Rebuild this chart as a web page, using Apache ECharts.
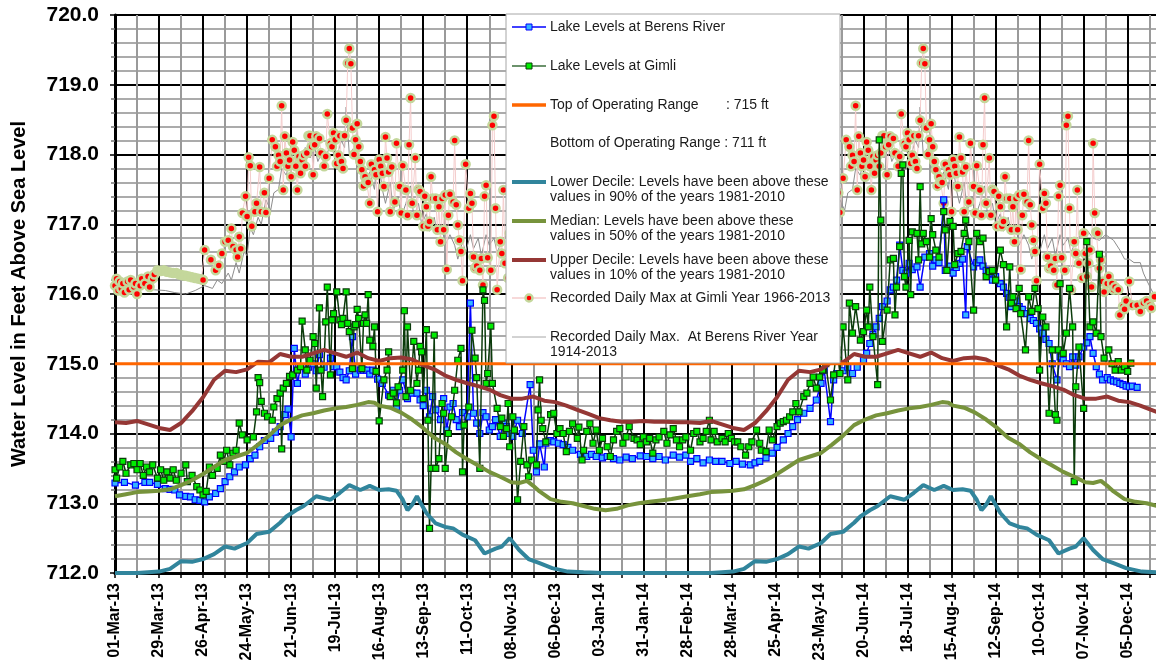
<!DOCTYPE html>
<html><head><meta charset="utf-8">
<script src="https://cdn.jsdelivr.net/npm/echarts@6/dist/echarts.min.js"></script>
<style>html,body{margin:0;padding:0;background:#fff}#c{width:1156px;height:667px}</style>
</head><body><div id="c"></div>
<script>
// ---------------- DATA ----------------
// x = days since 01-Mar-2013
const X_MAX_DAY = 662;
const xTickLabels = ['01-Mar-13','29-Mar-13','26-Apr-13','24-May-13','21-Jun-13','19-Jul-13','16-Aug-13','13-Sep-13','11-Oct-13','08-Nov-13','06-Dec-13','03-Jan-14','31-Jan-14','28-Feb-14','28-Mar-14','25-Apr-14','23-May-14','20-Jun-14','18-Jul-14','15-Aug-14','12-Sep-14','10-Oct-14','07-Nov-14','05-Dec-14'];
const yTickLabels = ['712.0','713.0','714.0','715.0','716.0','717.0','718.0','719.0','720.0'];
const TOP_RANGE = 715;
const BOTTOM_RANGE = 711;

// Observed 2013-2014 levels [day, ft]
const berensLevels = [[0,713.29],[6,713.3],[13,713.26],[19,713.3],[22,713.3],[27,713.27],[32,713.21],[35,713.2],[38,713.19],[41,713.12],[45,713.1],[48,713.09],[51,713.05],[54,713.04],[57,713.02],[60,713.09],[64,713.14],[67,713.21],[70,713.31],[73,713.38],[76,713.45],[79,713.52],[83,713.55],[86,713.64],[89,713.69],[92,713.81],[95,713.9],[99,713.93],[102,714.02],[105,714.1],[108,714.27],[110,714.35],[112,713.95],[114,715.22],[116,714.72],[118,714.96],[121,714.85],[123,714.95],[126,715.0],[128,714.9],[130,715.13],[133,714.95],[137,715.08],[139,714.96],[141,714.96],[143,714.88],[145,714.8],[147,714.77],[149,714.9],[151,715.39],[153,714.85],[156,714.91],[158,714.91],[160,714.91],[162,714.85],[164,714.91],[167,714.78],[170,714.72],[174,714.55],[177,714.62],[179,714.38],[181,714.62],[183,714.77],[186,714.5],[189,714.58],[192,714.58],[194,714.48],[196,714.4],[198,714.62],[200,714.24],[202,714.53],[204,714.34],[207,714.2],[209,714.5],[211,714.05],[213,714.38],[215,714.43],[217,714.2],[219,714.1],[221,714.3],[224,714.24],[226,715.87],[228,714.29],[230,714.15],[232,714.0],[234,714.3],[236,714.24],[238,714.05],[240,714.1],[242,714.2],[245,713.96],[247,714.15],[249,714.1],[251,714.0],[253,713.96],[256,714.19],[259,714.0],[264,714.7],[266,713.76],[268,713.45],[270,713.85],[273,713.52],[274,713.86],[277,713.9],[279,713.88],[282,713.86],[285,713.84],[288,713.8],[291,713.76],[296,713.7],[300,713.67],[303,713.7],[306,713.67],[310,713.65],[313,713.67],[317,713.64],[321,713.62],[325,713.66],[329,713.64],[334,713.68],[338,713.67],[342,713.64],[346,713.67],[350,713.62],[355,713.69],[359,713.66],[363,713.69],[366,713.6],[370,713.64],[374,713.58],[378,713.62],[382,713.6],[386,713.6],[391,713.57],[395,713.6],[399,713.56],[404,713.55],[407,713.58],[410,713.6],[414,713.65],[418,713.72],[421,713.8],[425,713.91],[428,714.0],[431,714.1],[434,714.2],[438,714.29],[442,714.36],[446,714.48],[449,714.72],[451,714.91],[455,714.17],[457,714.77],[459,714.86],[463,714.9],[466,714.95],[469,714.86],[472,714.95],[476,715.05],[478,715.15],[480,715.29],[482,715.42],[484,715.53],[486,715.65],[488,715.82],[491,715.9],[493,716.06],[495,716.1],[497,716.2],[499,716.7],[501,716.34],[503,716.3],[505,716.44],[507,716.35],[510,716.39],[512,716.1],[515,716.53],[518,716.58],[520,716.4],[522,716.49],[524,716.45],[527,717.35],[528,716.34],[531,716.4],[533,716.3],[535,716.38],[537,716.44],[539,716.5],[541,715.7],[542,716.68],[546,716.39],[548,716.45],[550,716.49],[552,716.4],[554,716.34],[556,716.3],[558,716.2],[560,716.25],[563,716.15],[565,716.1],[567,716.01],[569,715.95],[570,715.82],[573,715.9],[575,715.82],[577,715.78],[580,715.72],[582,715.65],[584,715.62],[586,715.58],[588,715.5],[590,715.44],[592,715.35],[594,715.29],[596,715.0],[599,714.77],[601,715.1],[603,715.05],[605,715.0],[607,714.96],[609,715.1],[611,714.98],[613,715.1],[616,715.24],[618,715.3],[620,715.39],[622,715.15],[624,714.96],[626,714.85],[628,714.77],[631,714.8],[633,714.77],[635,714.75],[637,714.74],[639,714.72],[641,714.7],[643,714.68],[645,714.67],[647,714.68],[650,714.66]];

const gimliLevels = [[0,713.48],[1,713.36],[3,713.52],[5,713.6],[7,713.43],[10,713.55],[12,713.57],[14,713.48],[16,713.57],[18,713.4],[20,713.52],[22,713.45],[24,713.55],[27,713.36],[29,713.48],[31,713.33],[33,713.45],[35,713.36],[37,713.48],[39,713.33],[42,713.43],[45,713.55],[46,713.31],[49,713.4],[52,713.24],[54,713.19],[56,713.12],[58,713.17],[60,713.52],[62,713.4],[65,713.5],[67,713.69],[69,713.6],[71,713.76],[73,713.55],[75,713.72],[77,713.76],[79,714.15],[81,713.98],[84,713.91],[88,713.95],[90,714.31],[91,714.8],[92,714.73],[93,714.46],[95,714.29],[97,714.24],[100,714.19],[101,714.38],[103,714.5],[105,714.58],[106,713.78],[107,714.65],[109,714.72],[111,714.82],[113,714.84],[116,714.91],[118,714.96],[119,715.61],[121,715.2],[122,714.91],[124,715.05],[126,715.39],[127,715.29],[128,714.65],[130,715.8],[131,714.91],[132,714.53],[134,715.6],[135,716.1],[137,714.84],[138,715.63],[139,715.72],[141,716.03],[143,715.63],[144,715.56],[145,715.65],[147,716.03],[148,715.58],[149,715.46],[151,714.93],[152,715.53],[153,715.56],[154,715.78],[155,715.65],[157,714.93],[158,715.58],[159,715.7],[160,715.58],[161,715.99],[162,715.34],[164,715.25],[165,715.53],[166,714.89],[168,714.18],[171,714.77],[173,714.91],[174,715.17],[175,714.53],[177,714.58],[179,714.44],[180,714.67],[183,714.91],[184,715.76],[185,714.53],[186,715.53],[188,714.62],[190,715.32],[192,714.72],[193,714.91],[194,715.25],[195,715.17],[196,714.5],[198,715.49],[199,714.19],[200,712.64],[201,713.5],[203,715.41],[204,713.5],[206,713.64],[208,714.43],[209,714.29],[210,713.5],[212,714.0],[214,714.24],[216,714.62],[218,715.05],[220,715.22],[221,713.45],[222,714.12],[225,714.38],[227,715.48],[229,715.08],[230,714.8],[232,713.5],[234,716.06],[235,715.91],[236,714.72],[237,714.86],[239,715.54],[240,714.72],[243,714.36],[245,714.1],[246,714.22],[247,713.96],[249,714.07],[250,714.43],[251,713.81],[253,714.24],[254,714.05],[256,713.05],[258,713.6],[260,714.1],[262,713.55],[263,713.38],[265,713.62],[268,713.55],[269,714.34],[270,714.77],[271,714.19],[272,714.07],[274,713.88],[277,714.27],[279,714.29],[281,714.0],[283,714.07],[285,714.0],[287,713.74],[289,714.03],[291,714.14],[294,713.93],[295,714.09],[297,713.62],[298,713.76],[300,714.03],[302,714.14],[304,713.86],[306,714.05],[308,713.76],[310,713.93],[313,713.81],[315,713.67],[317,713.91],[319,714.03],[321,714.07],[323,713.86],[325,713.95],[327,714.1],[330,713.93],[332,713.91],[334,713.84],[336,713.95],[338,713.88],[340,713.93],[342,713.72],[344,713.91],[346,713.95],[349,714.03],[351,713.86],[353,713.98],[355,714.07],[357,713.91],[359,713.81],[361,713.91],[363,713.95],[366,713.76],[368,714.0],[370,714.03],[372,713.88],[374,713.93],[376,714.03],[378,714.19],[379,713.91],[381,714.03],[383,713.88],[386,713.93],[388,713.88],[390,714.0],[392,713.93],[394,713.88],[396,713.88],[398,713.81],[401,713.69],[403,713.81],[405,713.88],[408,714.05],[410,713.86],[411,713.76],[414,713.74],[416,714.05],[418,713.91],[421,714.1],[423,714.15],[425,714.17],[427,714.19],[429,714.24],[431,714.31],[433,714.43],[435,714.31],[438,714.53],[440,714.58],[442,714.72],[444,714.81],[446,714.65],[448,714.81],[450,714.91],[452,715.0],[455,714.48],[457,714.84],[459,715.2],[460,715.05],[461,714.86],[463,715.53],[466,714.77],[467,715.87],[469,715.44],[471,715.82],[474,715.34],[476,715.46],[478,715.77],[479,715.53],[480,716.1],[482,715.39],[485,714.7],[486,718.21],[487,717.06],[488,715.32],[491,715.77],[493,716.49],[495,716.51],[496,715.7],[497,716.1],[499,716.68],[500,717.73],[501,717.85],[502,716.25],[503,716.1],[505,716.77],[506,715.99],[507,716.89],[510,716.87],[511,716.49],[512,717.54],[513,716.72],[514,716.87],[516,716.75],[518,716.53],[519,717.08],[520,716.85],[522,716.63],[524,716.53],[527,717.18],[528,716.92],[529,716.34],[531,717.04],[533,716.97],[534,716.42],[536,716.58],[538,716.61],[540,716.87],[541,717.06],[543,716.75],[546,715.77],[548,716.87],[550,716.75],[552,716.8],[554,716.25],[556,716.32],[558,716.34],[560,716.2],[563,716.63],[565,716.42],[567,715.53],[569,716.39],[570,715.87],[571,715.96],[573,715.79],[575,716.08],[576,715.72],[579,715.2],[581,715.96],[583,715.75],[585,716.08],[587,715.79],[588,714.91],[590,715.67],[592,715.53],[594,714.29],[596,715.2],[598,714.27],[599,714.19],[600,715.2],[601,716.15],[603,715.15],[605,715.44],[607,716.08],[609,715.53],[610,713.31],[611,714.67],[613,715.24],[616,714.36],[618,716.75],[620,715.53],[622,715.6],[624,715.44],[626,716.57],[627,715.39],[629,715.08],[632,715.2],[634,715.0],[636,714.91],[638,715.03],[640,714.91],[642,714.96],[644,714.89],[646,715.01]];

// Climatology 1981-2010, by day of season (0 = 01-Mar), repeats each year
const lowerDecile = [[0,712.0],[7,712.0],[14,712.0],[21,712.01],[28,712.02],[35,712.06],[42,712.17],[49,712.16],[56,712.2],[63,712.27],[70,712.38],[76,712.35],[84,712.43],[90,712.56],[98,712.59],[105,712.72],[109,712.81],[115,712.9],[120,712.96],[128,713.1],[137,713.05],[143,713.15],[149,713.26],[156,713.19],[162,713.25],[168,713.19],[174,713.2],[179,713.18],[183,713.05],[186,712.9],[189,712.98],[192,713.1],[195,712.98],[198,712.86],[204,712.71],[210,712.66],[215,712.64],[221,712.55],[229,712.47],[235,712.28],[242,712.35],[246,712.38],[251,712.5],[257,712.33],[263,712.2],[270,712.14],[278,712.07],[288,712.02],[298,712.01],[310,712.0],[330,712.0],[364,712.0]];
const medianLevel = [[0,713.1],[7,713.13],[14,713.16],[21,713.17],[28,713.18],[35,713.2],[42,713.26],[49,713.33],[56,713.42],[63,713.52],[70,713.62],[77,713.67],[84,713.72],[91,713.84],[98,713.97],[105,714.12],[112,714.2],[119,714.26],[126,714.29],[133,714.33],[140,714.36],[147,714.38],[154,714.41],[161,714.45],[165,714.44],[168,714.4],[175,714.37],[182,714.3],[189,714.2],[196,714.08],[203,713.94],[210,713.85],[217,713.73],[224,713.63],[231,713.54],[238,713.45],[245,713.38],[252,713.3],[257,713.29],[262,713.32],[266,713.25],[270,713.17],[277,713.06],[284,713.02],[291,713.0],[298,712.96],[305,712.92],[312,712.9],[319,712.92],[326,712.97],[333,713.0],[340,713.02],[347,713.04],[354,713.06],[364,713.1]];
const upperDecile = [[0,714.16],[7,714.15],[14,714.18],[21,714.13],[28,714.08],[35,714.05],[42,714.15],[49,714.32],[56,714.52],[63,714.77],[70,714.9],[77,714.88],[84,714.92],[91,715.03],[98,715.02],[105,715.14],[112,715.1],[119,715.1],[126,715.15],[133,715.2],[140,715.15],[147,715.1],[154,715.16],[161,715.08],[168,715.04],[175,715.08],[182,715.09],[189,715.06],[196,714.98],[203,714.92],[210,714.83],[217,714.77],[224,714.72],[231,714.68],[238,714.63],[245,714.55],[252,714.5],[259,714.5],[266,714.53],[273,714.47],[280,714.45],[287,714.4],[294,714.34],[301,714.28],[308,714.22],[315,714.19],[322,714.17],[329,714.17],[336,714.18],[343,714.17],[350,714.17],[357,714.16],[364,714.16]];

// Recorded daily maxima, by day of season (repeats each year)
const gimliMax = [[0,716.12],[1,716.22],[2,716.05],[3,716.18],[4,716.08],[5,716.15],[6,716.02],[8,716.18],[9,716.06],[10,716.2],[12,716.1],[13,716.15],[14,716.0],[16,716.12],[17,716.22],[19,716.15],[21,716.25],[22,716.1],[24,716.22],[25,716.28],[27,716.34],[29,716.33],[31,716.34],[33,716.32],[35,716.31],[37,716.3],[39,716.3],[41,716.28],[43,716.27],[45,716.26],[47,716.25],[49,716.24],[51,716.23],[53,716.22],[55,716.21],[56,716.2],[57,716.63],[61,716.49],[64,716.34],[66,716.41],[68,716.58],[70,716.75],[72,716.77],[74,716.94],[75,716.68],[77,716.63],[78,716.53],[79,716.82],[80,716.65],[81,717.16],[83,717.4],[84,717.11],[85,717.96],[86,717.84],[87,716.97],[89,717.18],[90,717.3],[92,717.82],[93,717.18],[95,717.45],[96,717.17],[98,717.66],[100,718.21],[102,718.11],[103,717.83],[104,717.99],[105,717.9],[106,718.7],[107,717.49],[108,718.26],[109,718.02],[110,717.83],[111,717.92],[112,717.68],[113,718.18],[114,718.06],[115,717.83],[116,717.49],[117,717.97],[118,717.73],[119,717.92],[120,717.99],[121,717.83],[122,718.02],[123,718.27],[124,718.27],[125,718.11],[126,717.71],[127,718.14],[128,718.26],[130,718.23],[131,718.02],[133,717.83],[134,717.97],[135,718.58],[137,718.16],[138,718.11],[139,718.31],[140,718.21],[141,717.87],[142,717.99],[143,718.27],[144,717.9],[145,717.8],[146,718.27],[147,718.49],[148,719.31],[149,719.52],[150,719.3],[151,718.38],[152,718.0],[153,718.21],[154,718.44],[155,718.11],[156,717.9],[157,717.78],[158,717.55],[159,717.68],[160,717.61],[161,717.6],[162,717.3],[163,717.86],[165,717.78],[166,717.71],[167,717.18],[168,717.93],[169,717.83],[170,717.73],[171,717.54],[172,718.25],[173,717.95],[174,717.75],[175,717.18],[176,717.82],[178,717.32],[179,718.16],[181,717.54],[182,717.16],[183,717.84],[185,717.49],[186,717.13],[187,718.14],[188,718.81],[189,717.3],[191,717.95],[192,717.13],[193,717.5],[194,717.47],[196,716.97],[197,717.4],[198,717.25],[199,716.97],[200,717.04],[201,717.68],[202,717.37],[204,717.37],[205,716.92],[206,717.25],[207,716.75],[208,717.37],[209,716.92],[210,717.42],[211,716.35],[212,717.13],[213,717.43],[215,717.32],[216,718.2],[217,717.28],[218,716.99],[219,716.77],[220,716.61],[221,716.19],[223,717.86],[225,717.23],[226,717.44],[227,717.3],[228,716.53],[229,716.37],[230,716.4],[232,716.34],[233,716.51],[234,716.13],[235,717.4],[236,717.56],[237,716.52],[239,716.34],[240,718.42],[241,718.55],[242,717.23],[243,716.06],[245,716.75],[246,716.58],[247,717.49],[248,716.44],[250,716.23],[251,716.87],[252,716.58],[253,716.25],[254,716.44],[255,716.63],[256,716.1],[257,718.16],[258,717.16],[259,716.89],[260,716.87],[261,716.37],[262,716.49],[263,716.18],[264,716.03],[266,716.15],[267,716.25],[269,716.15],[270,716.06],[271,716.1],[273,716.06],[274,715.7],[276,715.82],[277,715.78],[278,715.9],[280,716.18],[282,715.84],[285,715.84],[287,715.75],[289,715.87],[291,715.9],[293,715.84],[294,715.8],[296,715.96],[300,716.05],[310,716.1],[320,716.0],[330,716.12],[340,716.05],[350,716.1],[360,716.08]];
const berensMax = [[0,716.12],[6,716.08],[13,716.05],[19,716.1],[25,716.06],[32,716.05],[38,716.02],[45,716.0],[51,716.05],[57,716.12],[62,716.08],[65,716.2],[68,716.15],[72,716.3],[74,716.2],[77,716.45],[79,716.3],[82,716.6],[84,716.55],[86,716.95],[88,716.85],[91,717.1],[93,717.0],[96,717.35],[99,717.2],[101,717.45],[104,717.5],[106,717.8],[109,717.7],[111,717.95],[114,717.85],[116,718.0],[119,717.85],[121,718.1],[124,717.95],[127,718.1],[129,717.9],[132,718.05],[134,717.95],[137,718.15],[140,717.95],[142,718.05],[144,718.2],[146,718.1],[147,718.68],[149,718.0],[152,718.1],[154,717.8],[157,717.95],[160,717.6],[162,717.75],[165,717.5],[167,718.0],[170,717.5],[172,717.3],[175,717.6],[177,717.2],[180,717.4],[182,717.1],[185,717.3],[188,717.55],[190,717.1],[193,717.3],[195,717.0],[198,717.15],[200,716.9],[203,717.1],[205,716.85],[208,716.95],[210,716.7],[213,716.85],[216,716.7],[218,716.5],[221,716.75],[223,716.6],[226,716.85],[228,716.65],[231,716.8],[233,716.55],[236,716.85],[238,716.7],[241,716.8],[243,716.6],[246,716.75],[249,716.85],[253,716.92],[257,716.8],[261,716.77],[265,716.85],[270,716.77],[274,716.63],[277,716.5],[280,716.5],[283,716.45],[287,716.45],[289,716.3],[291,716.2],[295,716.02],[300,716.0],[320,716.0],[340,716.05],[364,716.1]];

// ---------------- CHART ----------------
const FONT = 'Arial, "Liberation Sans", sans-serif';
function everySeason(arr){ // climatology repeats each season (365 days); lines run past the right edge and are clipped
  const out = arr.map(p => [p[0], p[1]]);
  let passedEnd = false;
  arr.forEach(p => {
    if (passedEnd) return;
    out.push([p[0] + 365, p[1]]);
    if (p[0] + 365 > X_MAX_DAY) passedEnd = true;
  });
  return out;
}
const chart = echarts.init(document.getElementById('c'), null, {renderer:'canvas'});

const legendItems = [
  {y:27, text:'Lake Levels at Berens River', line:{stroke:'#0000ff', lineWidth:1.5}, sq:{fill:'#33b5ff', stroke:'#0000ff'}},
  {y:66, text:'Lake Levels at Gimli', line:{stroke:'#3b6e3b', lineWidth:1.5}, sq:{fill:'#00ee00', stroke:'#0b3b0b'}},
  {y:105, text:'Top of Operating Range       : 715 ft', line:{stroke:'#ff6600', lineWidth:3.5}},
  {y:143, text:'Bottom of Operating Range : 711 ft'},
  {y:182, text:'Lower Decile: Levels have been above these\nvalues in 90% of the years 1981-2010', line:{stroke:'#31859c', lineWidth:4}},
  {y:221, text:'Median: Levels have been above these\nvalues in 50% of the years 1981-2010', line:{stroke:'#77933c', lineWidth:4}},
  {y:260, text:'Upper Decile: Levels have been above these\nvalues in 10% of the years 1981-2010', line:{stroke:'#953735', lineWidth:4}},
  {y:298, text:'Recorded Daily Max at Gimli Year 1966-2013', line:{stroke:'#f4cccc', lineWidth:1.5}, dot:true},
  {y:337, text:'Recorded Daily Max.  At Berens River Year\n1914-2013', line:{stroke:'#a6a6a6', lineWidth:1}}
];
const graphics = [{type:'rect', z:100, shape:{x:506, y:14, width:334, height:349}, style:{fill:'#fff', stroke:'#a6a6a6', lineWidth:1}}];
legendItems.forEach(it => {
  if (it.line) graphics.push({type:'line', z:101, shape:{x1:512, y1:it.y, x2:546, y2:it.y}, style:Object.assign({}, it.line)});
  if (it.sq) graphics.push({type:'rect', z:102, shape:{x:526, y:it.y-3, width:6, height:6}, style:{fill:it.sq.fill, stroke:it.sq.stroke, lineWidth:1}});
  if (it.dot) graphics.push({type:'circle', z:102, shape:{cx:529, cy:it.y, r:3.5}, style:{fill:'#ff0000', stroke:'#c4d79b', lineWidth:2.5}});
  const two = it.text.indexOf('\n') >= 0;
  graphics.push({type:'text', z:102, x:550, y: two ? it.y - 7.5 : it.y, style:{text:it.text, fill:'#1a1a1a', fontSize:14, fontFamily:FONT, lineHeight:15, verticalAlign: two ? 'top' : 'middle'}});
});

const option = {
  animation: false,
  backgroundColor: '#fff',
  grid: {left:115, top:15, right:0, bottom:94, outerBoundsMode:'none', containLabel:false},
  xAxis: {
    type:'value', min:0, max:X_MAX_DAY, interval:14,
    axisLine:{show:true, onZero:false, lineStyle:{color:'#000', width:3}},
    axisTick:{show:true, length:5, lineStyle:{color:'#000', width:1.5}},
    axisLabel:{rotate:90, margin:10, fontSize:16, fontWeight:'bold', color:'#000', fontFamily:FONT,
      showMaxLabel:false,
      formatter: v => { const d = Math.round(v); return (d % 28 === 0 && d/28 < xTickLabels.length) ? xTickLabels[d/28] : ''; }},
    splitLine:{show:true, showMaxLine:false, lineStyle:{color:['#000','#9a9a9a'], width:2}}
  },
  yAxis: {
    type:'value', min:712, max:720, interval:1,
    name:'Water Level in Feet Above Sea Level', nameLocation:'middle', nameGap:86,
    nameTextStyle:{fontSize:20, fontWeight:'bold', color:'#000', fontFamily:FONT},
    axisLine:{show:true, lineStyle:{color:'#000', width:3}},
    axisTick:{show:true, length:5, lineStyle:{color:'#000', width:1.5}},
    minorTick:{show:true, splitNumber:5, length:4, lineStyle:{color:'#777', width:1.5}},
    axisLabel:{margin:16, fontSize:21, fontWeight:'bold', color:'#000', fontFamily:FONT,
      formatter: v => yTickLabels[Math.round(v - 712)]},
    splitLine:{show:true, lineStyle:{color:'#000', width:2}},
    minorSplitLine:{show:true, lineStyle:{color:'#ababab', width:2}}
  },
  graphic: {elements: graphics},
  series: [
    {name:'Recorded Daily Max.  At Berens River Year 1914-2013', type:'line', z:2, data:everySeason(berensMax), showSymbol:false, symbol:'none',
      lineStyle:{color:'#8c8c8c', width:1}},
    {name:'Recorded Daily Max at Gimli Year 1966-2013', type:'line', z:3, data:everySeason(gimliMax), showAllSymbol:true, symbol:'circle', symbolSize:8,
      lineStyle:{color:'#f4cccc', width:1},
      itemStyle:{color: p => { const d = p.data[0] % 365; return (d >= 27 && d <= 55) ? '#c4d79b' : '#ff0000'; }, borderColor:'#c4d79b', borderWidth:2.5}},
    {name:'Lake Levels at Berens River', type:'line', z:4, data:berensLevels, showAllSymbol:true, symbol:'rect', symbolSize:6,
      lineStyle:{color:'#0000ff', width:1.5}, itemStyle:{color:'#33b5ff', borderColor:'#0000ff', borderWidth:1.2}},
    {name:'Lake Levels at Gimli', type:'line', z:5, data:gimliLevels, showAllSymbol:true, symbol:'rect', symbolSize:6,
      lineStyle:{color:'#0b3b0b', width:1.5}, itemStyle:{color:'#00ee00', borderColor:'#0b3b0b', borderWidth:1.2}},
    {name:'Lower Decile', type:'line', z:6, data:everySeason(lowerDecile), symbol:'none', lineStyle:{color:'#31859c', width:4}},
    {name:'Median', type:'line', z:6, data:everySeason(medianLevel), symbol:'none', lineStyle:{color:'#77933c', width:4}},
    {name:'Upper Decile', type:'line', z:6, data:everySeason(upperDecile), symbol:'none', lineStyle:{color:'#953735', width:4}},
    {name:'Top of Operating Range', type:'line', z:7, data:[[0,TOP_RANGE],[X_MAX_DAY,TOP_RANGE]], symbol:'none', lineStyle:{color:'#ff6600', width:3}},
    {name:'Bottom of Operating Range', type:'line', z:7, clip:true, data:[[0,BOTTOM_RANGE],[X_MAX_DAY,BOTTOM_RANGE]], symbol:'none', lineStyle:{color:'#ffffff', width:1}}
  ]
};
chart.setOption(option);
</script>
</body></html>
